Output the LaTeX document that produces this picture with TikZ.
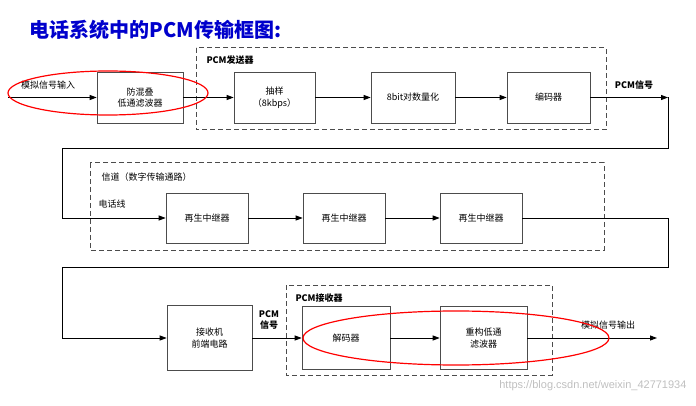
\documentclass[tikz,border=0pt]{standalone}
\usepackage{fontspec}
\setmainfont{Liberation Serif}
\newfontfamily\cjk{Noto Sans CJK SC}
\usetikzlibrary{arrows.meta}
\begin{document}
\begin{tikzpicture}[x=1pt,y=-1pt,font=\cjk\fontsize{9}{11.5}\selectfont,
  blk/.style={draw=black!70,line width=0.6pt,fill=white,inner sep=0},
  dbox/.style={draw=black!70,line width=1pt,dash pattern=on 5pt off 3pt},
  ln/.style={line width=0.9pt,-{Triangle[length=7pt,width=5pt]}},
  pl/.style={line width=0.9pt},
  red/.style={draw=red,line width=1.2pt}]
\useasboundingbox (0,0) rectangle (696,406);
\node[text=blue!80!black,font=\cjk\bfseries\fontsize{20}{22}\selectfont,anchor=west] (title) at (26,30) {电话系统中的PCM传输框图:};
% dashed groups
\draw[dbox] (196,48) rectangle (606,130);
\node[anchor=west,font=\cjk\bfseries\fontsize{9}{11}\selectfont] (lt) at (203,60) {PCM发送器};
\draw[dbox] (90,163) rectangle (604,250);
\node[anchor=west] (lm) at (98,177) {信道（数字传输通路）};
\draw[dbox] (286,285) rectangle (552,375);
\node[anchor=west,font=\cjk\bfseries\fontsize{9}{11}\selectfont] (lb) at (292,298) {PCM接收器};
% row 1
\node[blk,minimum width=86,minimum height=51,align=center] (a) at (140,97.5) {防混叠\\低通滤波器};
\node[blk,minimum width=81,minimum height=51,align=center] (b) at (274.5,97.5) {抽样\\（8kbps）};
\node[blk,minimum width=84,minimum height=51] (c) at (413,97.5) {8bit对数量化};
\node[blk,minimum width=83,minimum height=51] (d) at (548.5,97.5) {编码器};
\coordinate (in) at (8,97.5);
\node[anchor=south] (inl) at (48,93) {模拟信号输入};
\draw[ln] (in) -- (a);
\draw[ln] (a) -- (b);
\draw[ln] (b) -- (c);
\draw[ln] (c) -- (d);
\node[anchor=south,font=\cjk\bfseries\fontsize{9}{11}\selectfont] (pcm1) at (634,93) {PCM信号};
\coordinate (t1) at (668,97.5);
\coordinate (t2) at (668,148);
\coordinate (t3) at (62,148);
\coordinate (t4) at (62,218);
\draw[ln] (d) -- (t1);
% row 2
\node[blk,minimum width=82,minimum height=50] (e) at (207,218) {再生中继器};
\node[blk,minimum width=82,minimum height=50] (f) at (344,218) {再生中继器};
\node[blk,minimum width=82,minimum height=50] (g) at (481,218) {再生中继器};
\node[anchor=south] (tel) at (112,212) {电话线};
\draw[pl] (t1) -- (t2) -- (t3) -- (t4);
\draw[ln] (t4) -- (e);
\draw[ln] (e) -- (f);
\draw[ln] (f) -- (g);
\coordinate (u1) at (668,218);
\coordinate (u2) at (668,267);
\coordinate (u3) at (62,267);
\coordinate (u4) at (62,338);
\draw[pl] (g) -- (u1) -- (u2) -- (u3) -- (u4);
% row 3
\node[blk,minimum width=85,minimum height=65,align=center] (h) at (209.5,338) {接收机\\前端电路};
\node[blk,minimum width=88,minimum height=63] (i) at (346,338) {解码器};
\node[blk,minimum width=87,minimum height=63,align=center] (j) at (483.5,338) {重构低通\\滤波器};
\draw[ln] (u4) -- (h);
\draw[ln] (h) -- (i);
\node[align=center,font=\cjk\bfseries\fontsize{9}{11}\selectfont] (pcm2) at (269,320) {PCM\\信号};
\draw[ln] (i) -- (j);
\coordinate (out) at (657,338);
\draw[ln] (j) -- (out);
\node[anchor=south] (outl) at (608,333) {模拟信号输出};
% red ellipses
\draw[red] (108,93) ellipse [x radius=100,y radius=22];
\draw[red] (456,338) ellipse [x radius=153,y radius=27];
\node[anchor=east,text=black!25,font=\fontspec{Liberation Sans}\fontsize{11}{13}\selectfont] (wm) at (690,386) {https://blog.csdn.net/weixin\_42771934};
\end{tikzpicture}
\end{document}
